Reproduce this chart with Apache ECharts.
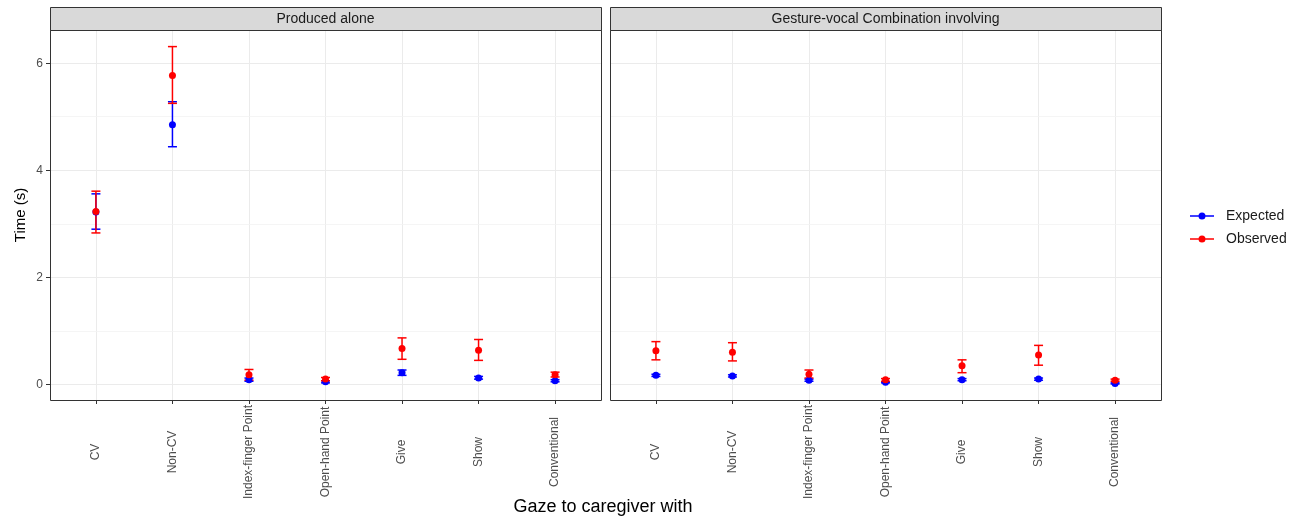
<!DOCTYPE html>
<html>
<head>
<meta charset="utf-8">
<script src="https://cdn.jsdelivr.net/npm/echarts@6/dist/echarts.min.js"></script>
<style>
html,body{margin:0;padding:0;background:#fff;}
#chart{width:1306px;height:524px;}
</style>
</head>
<body>
<div id="chart"></div>
<script>
const categories = ['CV','Non-CV','Index-finger Point','Open-hand Point','Give','Show','Conventional'];
const panels = ['Produced alone','Gesture-vocal Combination involving'];
const yTicks = [0,2,4,6];
const yMinor = [1,3,5];

const aloneExpected     = [3.22, 4.85, 0.09, 0.05, 0.22, 0.12, 0.07];
const aloneExpectedLow  = [2.90, 4.44, 0.06, 0.03, 0.17, 0.10, 0.05];
const aloneExpectedHigh = [3.56, 5.28, 0.12, 0.07, 0.27, 0.15, 0.09];
const aloneObserved     = [3.23, 5.77, 0.18, 0.10, 0.67, 0.64, 0.18];
const aloneObservedLow  = [2.83, 5.25, 0.08, 0.07, 0.47, 0.45, 0.14];
const aloneObservedHigh = [3.61, 6.31, 0.28, 0.13, 0.87, 0.84, 0.23];

const comboExpected     = [0.17, 0.16, 0.08, 0.04, 0.09, 0.10, 0.02];
const comboExpectedLow  = [0.15, 0.14, 0.06, 0.03, 0.07, 0.08, 0.01];
const comboExpectedHigh = [0.19, 0.18, 0.10, 0.05, 0.11, 0.12, 0.03];
const comboObserved     = [0.63, 0.60, 0.19, 0.09, 0.35, 0.55, 0.08];
const comboObservedLow  = [0.46, 0.44, 0.12, 0.06, 0.22, 0.36, 0.06];
const comboObservedHigh = [0.80, 0.78, 0.27, 0.11, 0.46, 0.73, 0.10];

const BLUE = '#0000FF', RED = '#FF0000';
const FONT = '"Liberation Sans", Arial, sans-serif';
const catIdx = categories.map((c,i)=>i+1);

const chart = echarts.init(document.getElementById('chart'), null, {renderer:'canvas'});

const gridDefs = [
  {left:50, top:30, width:551, height:370},
  {left:610, top:30, width:551, height:370}
];

function errSeries(name, gi, low, high, color){
  return {
    type:'custom', name:name, xAxisIndex:gi, yAxisIndex:gi, z:3,
    data: catIdx.map((x,i)=>[x, low[i], high[i]]),
    renderItem: function(params, api){
      const x = api.value(0);
      const p1 = api.coord([x, api.value(1)]);
      const p2 = api.coord([x, api.value(2)]);
      const hw = 4.5;
      const st = {stroke:color, lineWidth:1.5};
      return {type:'group', children:[
        {type:'line', shape:{x1:p1[0],y1:p1[1],x2:p2[0],y2:p2[1]}, style:st},
        {type:'line', shape:{x1:p1[0]-hw,y1:p1[1],x2:p1[0]+hw,y2:p1[1]}, style:st},
        {type:'line', shape:{x1:p2[0]-hw,y1:p2[1],x2:p2[0]+hw,y2:p2[1]}, style:st}
      ]};
    },
    silent:true
  };
}
function pointSeries(name, gi, vals, color){
  return {
    type:'scatter', name:name, xAxisIndex:gi, yAxisIndex:gi, z:4,
    symbol:'circle', symbolSize:7,
    itemStyle:{color:color, opacity:1},
    data: catIdx.map((x,i)=>[x, vals[i]]),
    silent:true
  };
}
function gridSeries(gi){
  return {
    type:'scatter', xAxisIndex:gi, yAxisIndex:gi, z:1, data:[], silent:true,
    markLine:{
      z:1, silent:true, symbol:['none','none'], animation:false,
      label:{show:false},
      data: [
        ...catIdx.map(v=>({xAxis:v, lineStyle:{color:'#EBEBEB', width:1, type:'solid'}})),
        ...yTicks.map(v=>({yAxis:v, lineStyle:{color:'#EBEBEB', width:1, type:'solid'}})),
        ...yMinor.map(v=>({yAxis:v, lineStyle:{color:'#F2F2F2', width:0.8, type:'solid'}}))
      ]
    }
  };
}

const xAxes = gridDefs.map((g,gi)=>({
  type:'value', gridIndex:gi, min:0.4, max:7.6, position:'bottom',
  axisLine:{show:false, onZero:false},
  splitLine:{show:false},
  axisTick:{show:true, customValues:catIdx, length:4, lineStyle:{color:'#333333', width:1}},
  axisLabel:{show:true, customValues:catIdx, rotate:90, margin:52, fontSize:12,
    align:'center', verticalAlign:'middle',
    fontFamily:FONT, color:'#4D4D4D',
    formatter: v => categories[Math.round(v)-1] || ''}
}));
const yAxes = gridDefs.map((g,gi)=>({
  type:'value', gridIndex:gi, min:-0.29, max:6.62, position:'left',
  axisLine:{show:false, onZero:false},
  splitLine:{show:false},
  axisTick:{show: gi===0, customValues:yTicks, length:4, lineStyle:{color:'#333333', width:1}},
  axisLabel:{show: gi===0, customValues:yTicks, margin:7, fontSize:12,
    fontFamily:FONT, color:'#4D4D4D'},
  name: gi===0 ? 'Time (s)' : '',
  nameLocation:'middle', nameGap:22,
  nameTextStyle:{fontSize:15, color:'#000', fontFamily:FONT}
}));

const legendIcon = 'path://M0,3.25 H24 V4.75 H0 Z M8.5,4 A3.5,3.5 0 1,1 15.5,4 A3.5,3.5 0 1,1 8.5,4 Z';

const graphics = [];
gridDefs.forEach((g,gi)=>{
  graphics.push({type:'rect', shape:{x:g.left+0.5,y:7.5,width:g.width,height:23},
    style:{fill:'#D9D9D9', stroke:'#333333', lineWidth:1}, z:10, silent:true});
  graphics.push({type:'text', x:g.left + g.width/2, y:19,
    style:{text:panels[gi], fill:'#1A1A1A', font:'14px ' + FONT, textAlign:'center', textVerticalAlign:'middle'}, z:11, silent:true});
  graphics.push({type:'rect', shape:{x:g.left+0.5,y:g.top+0.5,width:g.width,height:g.height},
    style:{fill:'none', stroke:'#333333', lineWidth:1}, z:10, silent:true});
});
graphics.push({type:'text', x:603, y:507,
  style:{text:'Gaze to caregiver with', fill:'#000', font:'18px ' + FONT, textAlign:'center', textVerticalAlign:'middle'}, z:11, silent:true});

const option = {
  backgroundColor:'#ffffff',
  animation:false,
  grid: gridDefs.map(g=>Object.assign({containLabel:false, show:false}, g)),
  xAxis: xAxes,
  yAxis: yAxes,
  legend:{
    orient:'vertical', left:1185, top:204, itemGap:9, itemWidth:24, itemHeight:8,
    icon: legendIcon,
    data:[{name:'Expected', itemStyle:{color:BLUE}}, {name:'Observed', itemStyle:{color:RED}}],
    textStyle:{fontSize:14, color:'#1A1A1A', fontFamily:FONT, padding:[0,0,0,7]},
    selectedMode:false
  },
  graphic: graphics,
  series: [
    gridSeries(0), gridSeries(1),
    errSeries('Expected', 0, aloneExpectedLow, aloneExpectedHigh, BLUE),
    errSeries('Observed', 0, aloneObservedLow, aloneObservedHigh, RED),
    pointSeries('Expected', 0, aloneExpected, BLUE),
    pointSeries('Observed', 0, aloneObserved, RED),
    errSeries('Expected', 1, comboExpectedLow, comboExpectedHigh, BLUE),
    errSeries('Observed', 1, comboObservedLow, comboObservedHigh, RED),
    pointSeries('Expected', 1, comboExpected, BLUE),
    pointSeries('Observed', 1, comboObserved, RED)
  ]
};
chart.setOption(option);
</script>
</body>
</html>
